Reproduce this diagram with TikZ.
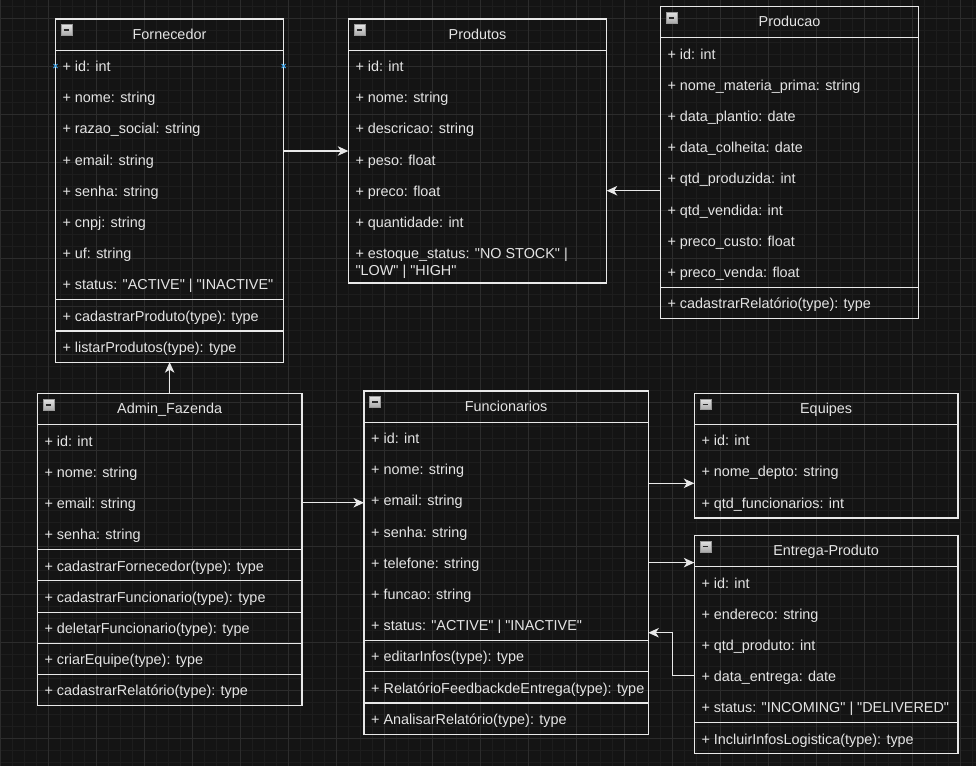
\documentclass[tikz,border=0pt]{standalone}
\usepackage{fontspec}
\setmainfont{Liberation Sans}[Ligatures=TeXOff]
\usetikzlibrary{arrows.meta}
\definecolor{bg}{HTML}{141414}
\definecolor{gmin}{HTML}{1D1D1D}
\definecolor{gmaj}{HTML}{2C2C2C}
\definecolor{ln}{HTML}{E8E8E8}
\definecolor{tx}{HTML}{E4E4E4}
\definecolor{mk}{HTML}{3FA9F0}
\definecolor{icotop}{HTML}{E2E2E2}
\definecolor{icobot}{HTML}{A8A8A8}
\definecolor{icoedge}{HTML}{9A9A9A}
\definecolor{icominus}{HTML}{2A2A2A}

\tikzset{
  cbox/.style={draw=ln, line width=1.05pt, inner sep=0pt, outer sep=0pt, rectangle},
  sepline/.style={draw=ln, line width=1.05pt},
  rowtxt/.style={anchor=west, inner sep=0pt, outer sep=0pt, text=tx,
    font=\fontsize{14.4}{17}\selectfont, text height=13.03pt, text depth=3.05pt},
  titletxt/.style={rowtxt, anchor=center},
  conn/.style={draw=ln, line width=1.1pt,
    -{Stealth[length=10.5pt,width=9.5pt,inset=3pt]}},
  icobox/.style={draw=icoedge, line width=0.7pt, top color=icotop, bottom color=icobot},
  icobar/.style={draw=icominus, line width=1.5pt},
  marker/.style={draw=mk, line width=1pt}
}

% name, x1, y1, x2, height, title
\newcommand\ucls[6]{%
  \node[cbox, anchor=north west, minimum width={#4-#2}, minimum height={#5}] (#1) at (#2,#3) {};
  \draw[sepline] (#2,{#3+31.2}) -- (#4,{#3+31.2});
  \node[titletxt] (#1-title) at ({(#2+#4)/2},{#3+15.2}) {#6};
  \path[icobox] ({#2+5.8},{#3+5.8}) rectangle ({#2+16.6},{#3+16.6});
  \draw[icobar] ({#2+8.3},{#3+11.2}) -- ({#2+14.1},{#3+11.2});
}
% name, x1, y1, index, text
\newcommand\urow[5]{%
  \node[rowtxt] (#1) at ({#2+7.2},{#3+31.2*#4+16.3}) {#5};
}
% x1, x2, y1, index
\newcommand\usep[4]{%
  \draw[sepline] (#1,{#3+31.2*#4}) -- (#2,{#3+31.2*#4});
}

\begin{document}
\begin{tikzpicture}[x=1pt,y=-1pt]
\useasboundingbox (0,0) rectangle (976,766);
\fill[bg] (0,0) rectangle (976,766);
\foreach \x in {12,24,...,972} \draw[gmin, line width=0.8pt] (\x,0) -- (\x,766);
\foreach \y in {6,18,...,762} \draw[gmin, line width=0.8pt] (0,\y) -- (976,\y);
\foreach \x in {0,48,...,960} \draw[gmaj, line width=0.9pt] (\x,0) -- (\x,766);
\foreach \y in {18,66,...,762} \draw[gmaj, line width=0.9pt] (0,\y) -- (976,\y);

% Fornecedor
\ucls{forn}{55.3}{19}{283.7}{31.2*11}{Fornecedor}
\urow{forn-1}{55.3}{19}{1}{+ id: int}
\urow{forn-2}{55.3}{19}{2}{+ nome: string}
\urow{forn-3}{55.3}{19}{3}{+ razao\_social: string}
\urow{forn-4}{55.3}{19}{4}{+ email: string}
\urow{forn-5}{55.3}{19}{5}{+ senha: string}
\urow{forn-6}{55.3}{19}{6}{+ cnpj: string}
\urow{forn-7}{55.3}{19}{7}{+ uf: string}
\urow{forn-8}{55.3}{19}{8}{+ status: "ACTIVE" | "INACTIVE"}
\usep{55.3}{283.7}{19}{9}
\urow{forn-9}{55.3}{19}{9}{+ cadastrarProduto(type): type}
\usep{55.3}{283.7}{19}{10}
\urow{forn-10}{55.3}{19}{10}{+ listarProdutos(type): type}
\draw[marker] (53.5,64) -- (57.5,68) (53.5,68) -- (57.5,64);
\draw[marker] (281.7,64) -- (285.7,68) (281.7,68) -- (285.7,64);

% Produtos
\ucls{prod}{348.3}{19}{606.7}{31.2*7+45.6}{Produtos}
\urow{prod-1}{348.3}{19}{1}{+ id: int}
\urow{prod-2}{348.3}{19}{2}{+ nome: string}
\urow{prod-3}{348.3}{19}{3}{+ descricao: string}
\urow{prod-4}{348.3}{19}{4}{+ peso: float}
\urow{prod-5}{348.3}{19}{5}{+ preco: float}
\urow{prod-6}{348.3}{19}{6}{+ quantidade: int}
\urow{prod-7}{348.3}{19}{7}{+ estoque\_status: "NO STOCK" |}
\node[rowtxt] (prod-7b) at (355.5,{19+31.2*7+16.3+16.5}) {"LOW" | "HIGH"};

% Producao
\ucls{prodc}{660.3}{6.7}{918.7}{31.2*10}{Producao}
\urow{prodc-1}{660.3}{6.7}{1}{+ id: int}
\urow{prodc-2}{660.3}{6.7}{2}{+ nome\_materia\_prima: string}
\urow{prodc-3}{660.3}{6.7}{3}{+ data\_plantio: date}
\urow{prodc-4}{660.3}{6.7}{4}{+ data\_colheita: date}
\urow{prodc-5}{660.3}{6.7}{5}{+ qtd\_produzida: int}
\urow{prodc-6}{660.3}{6.7}{6}{+ qtd\_vendida: int}
\urow{prodc-7}{660.3}{6.7}{7}{+ preco\_custo: float}
\urow{prodc-8}{660.3}{6.7}{8}{+ preco\_venda: float}
\usep{660.3}{918.7}{6.7}{9}
\urow{prodc-9}{660.3}{6.7}{9}{+ cadastrarRelatório(type): type}

% Admin_Fazenda
\ucls{admin}{37.3}{393.7}{302}{31.2*10}{Admin\_Fazenda}
\urow{admin-1}{37.3}{393.7}{1}{+ id: int}
\urow{admin-2}{37.3}{393.7}{2}{+ nome: string}
\urow{admin-3}{37.3}{393.7}{3}{+ email: string}
\urow{admin-4}{37.3}{393.7}{4}{+ senha: string}
\usep{37.3}{302}{393.7}{5}
\urow{admin-5}{37.3}{393.7}{5}{+ cadastrarFornecedor(type): type}
\usep{37.3}{302}{393.7}{6}
\urow{admin-6}{37.3}{393.7}{6}{+ cadastrarFuncionario(type): type}
\usep{37.3}{302}{393.7}{7}
\urow{admin-7}{37.3}{393.7}{7}{+ deletarFuncionario(type): type}
\usep{37.3}{302}{393.7}{8}
\urow{admin-8}{37.3}{393.7}{8}{+ criarEquipe(type): type}
\usep{37.3}{302}{393.7}{9}
\urow{admin-9}{37.3}{393.7}{9}{+ cadastrarRelatório(type): type}

% Funcionarios
\ucls{func}{364}{391}{648.3}{31.2*11}{Funcionarios}
\urow{func-1}{364}{391}{1}{+ id: int}
\urow{func-2}{364}{391}{2}{+ nome: string}
\urow{func-3}{364}{391}{3}{+ email: string}
\urow{func-4}{364}{391}{4}{+ senha: string}
\urow{func-5}{364}{391}{5}{+ telefone: string}
\urow{func-6}{364}{391}{6}{+ funcao: string}
\urow{func-7}{364}{391}{7}{+ status: "ACTIVE" | "INACTIVE"}
\usep{364}{648.3}{391}{8}
\urow{func-8}{364}{391}{8}{+ editarInfos(type): type}
\usep{364}{648.3}{391}{9}
\urow{func-9}{364}{391}{9}{+ RelatórioFeedbackdeEntrega(type): type}
\usep{364}{648.3}{391}{10}
\urow{func-10}{364}{391}{10}{+ AnalisarRelatório(type): type}

% Equipes
\ucls{equip}{694.3}{393.2}{958}{31.2*4}{Equipes}
\urow{equip-1}{694.3}{393.2}{1}{+ id: int}
\urow{equip-2}{694.3}{393.2}{2}{+ nome\_depto: string}
\urow{equip-3}{694.3}{393.2}{3}{+ qtd\_funcionarios: int}

% Entrega-Produto
\ucls{entr}{694.3}{535.5}{958}{31.2*7}{Entrega-Produto}
\urow{entr-1}{694.3}{535.5}{1}{+ id: int}
\urow{entr-2}{694.3}{535.5}{2}{+ endereco: string}
\urow{entr-3}{694.3}{535.5}{3}{+ qtd\_produto: int}
\urow{entr-4}{694.3}{535.5}{4}{+ data\_entrega: date}
\urow{entr-5}{694.3}{535.5}{5}{+ status: "INCOMING" | "DELIVERED"}
\usep{694.3}{958}{535.5}{6}
\urow{entr-6}{694.3}{535.5}{6}{+ IncluirInfosLogistica(type): type}

% Connectors
\coordinate (c1) at (0,151);
\draw[conn] (forn.east |- c1) -- (prod.west |- c1);
\coordinate (c2) at (0,190.7);
\draw[conn] (prodc.west |- c2) -- (prod.east |- c2);
\draw[conn] (admin.north) -- (admin.north |- forn.south);
\coordinate (c4) at (0,502.7);
\draw[conn] (admin.east |- c4) -- (func.west |- c4);
\coordinate (c5) at (0,483.3);
\draw[conn] (func.east |- c5) -- (equip.west |- c5);
\draw[conn] (func.east) -- (func.east -| entr.west);
\coordinate (c7a) at (672.3,675.3);
\coordinate (c7b) at (0,632.7);
\draw[conn] (entr.west |- c7a) -- (c7a) |- (func.east |- c7b);
\end{tikzpicture}
\end{document}
